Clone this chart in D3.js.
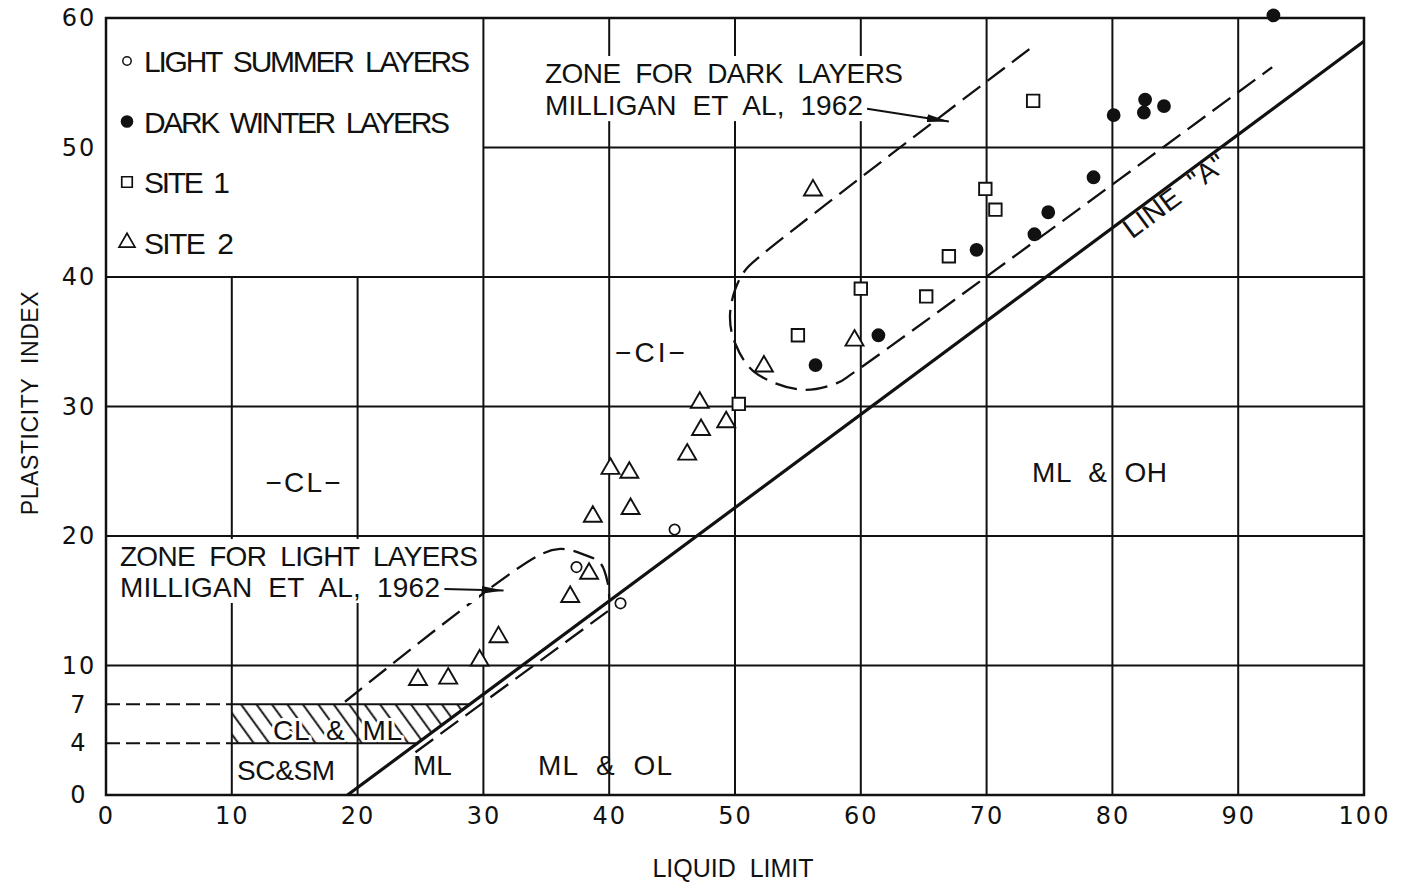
<!DOCTYPE html>
<html>
<head>
<meta charset="utf-8">
<script src="https://cdn.jsdelivr.net/npm/d3@7"></script>
<style>
  body { margin: 0; background: #fff; }
  svg { display: block; }
  text { white-space: pre; }
</style>
</head>
<body>
<div id="chart"></div>
<script>
// plasticity chart — liquid limit vs plasticity index, varved clay samples

const xTicks = [0, 10, 20, 30, 40, 50, 60, 70, 80, 90, 100];
const yTicks = [0, 4, 7, 10, 20, 30, 40, 50, 60];

// series (LL, PI)
const lightLL = [37.4, 40.9, 45.2];
const lightPI = [17.6, 14.8, 20.5];
const darkLL = [56.4, 61.4, 69.2, 73.8, 74.9, 78.5, 80.1, 82.5, 82.6, 84.1, 92.8];
const darkPI = [33.2, 35.5, 42.1, 43.3, 45.0, 47.7, 52.5, 52.7, 53.7, 53.2, 60.2];
const site1LL = [50.3, 55.0, 60.0, 65.2, 67.0, 69.9, 70.7, 73.7];
const site1PI = [30.2, 35.5, 39.1, 38.5, 41.6, 46.8, 45.2, 53.6];
const site2LL = [24.8, 27.2, 29.7, 31.2, 36.9, 38.4, 38.7, 40.1, 41.6, 41.7, 46.2, 47.3, 47.2, 49.3, 52.3, 56.2, 59.5];
const site2PI = [8.9, 9.0, 10.4, 12.2, 15.3, 17.1, 21.5, 25.2, 24.9, 22.1, 26.3, 28.2, 30.3, 28.8, 33.1, 46.7, 35.1];

const seriesNames = ["LIGHT  SUMMER  LAYERS", "DARK  WINTER  LAYERS", "SITE  1", "SITE  2"];

// line "A"
const lineALL = [19.2, 100];
const lineAPI = [0, 58.2];

// Milligan et al. 1962 zones
const lightUpperLL = [19.0, 34.2, 36.1, 37.9, 39.3, 39.9, 40.0];
const lightUpperPI = [7.2, 18.4, 19.0, 18.6, 17.9, 16.3, 15.2];
const lightLowerLL = [24.6, 39.9];
const lightLowerPI = [3.3, 14.2];
const darkZoneLL = [73.4, 52.0, 50.8, 50.0, 49.6, 50.0, 51.5, 55.2, 58.1, 59.4, 92.7];
const darkZonePI = [57.6, 41.6, 40.5, 39.0, 36.9, 34.9, 32.7, 31.3, 31.8, 32.6, 56.2];

const zip = (a, b) => a.map((v, i) => [v, b[i]]);

const width = 1405, height = 884;
const x = d3.scaleLinear().domain([0, 100]).range([106, 1364]);
const y = d3.scaleLinear().domain([0, 60]).range([795, 18]);
const lineAx = d3.scaleLinear().domain(lineAPI).range(lineALL); // LL on line A for a PI

const ink = "#111";
const cadFont = "'Liberation Sans Narrow', 'Arial Narrow', 'Liberation Sans', Arial, sans-serif";

const svg = d3.select("#chart").append("svg")
  .attr("width", width)
  .attr("height", height)
  .style("background", "#fff");

const defs = svg.append("defs");
defs.append("pattern")
  .attr("id", "hatch")
  .attr("patternUnits", "userSpaceOnUse")
  .attr("width", 12.5).attr("height", 12.5)
  .attr("patternTransform", "rotate(-36)")
  .append("line")
  .attr("x1", 6).attr("x2", 6).attr("y1", 0).attr("y2", 12.5)
  .attr("stroke", ink).attr("stroke-width", 1.9);

defs.append("marker")
  .attr("id", "arrow")
  .attr("viewBox", "0 0 20 10")
  .attr("refX", 20).attr("refY", 5)
  .attr("markerWidth", 22).attr("markerHeight", 11)
  .attr("markerUnits", "userSpaceOnUse")
  .attr("orient", "auto")
  .append("path")
  .attr("d", "M0,1.5 L20,5 L0,8.5 Z")
  .attr("fill", ink);

// hatched CL & ML band between PI 4 and 7
const band = [[10, 4], [10, 7], [lineAx(7), 7], [lineAx(4), 4]];
svg.append("polygon")
  .attr("points", band.map(d => [x(d[0]), y(d[1])].join(",")).join(" "))
  .attr("fill", "url(#hatch)");

function label(g, txt, ll, pi, w, opts = {}) {
  const t = g.append("text")
    .attr("x", x(ll))
    .attr("y", y(pi))
    .attr("text-anchor", opts.anchor || "middle")
    .style("font-family", cadFont)
    .style("font-size", (opts.size || 28) + "px")
    .attr("fill", ink)
    .text(txt);
  if (w) t.attr("textLength", w).attr("lengthAdjust", "spacing");
  return t;
}

const bandLabel = svg.append("g");
label(bandLabel, "CL  &  ML", 18.4, 4.25, 129)
  .attr("stroke", "#fff").attr("stroke-width", 6)
  .attr("paint-order", "stroke").attr("stroke-linejoin", "round");

// grid
const grid = svg.append("g").attr("stroke", ink).attr("stroke-width", 2).attr("fill", "none");
[10, 20].forEach(v => grid.append("line").attr("x1", x(v)).attr("x2", x(v)).attr("y1", y(0)).attr("y2", y(40)));
[30, 40, 50, 60, 70, 80, 90].forEach(v => grid.append("line").attr("x1", x(v)).attr("x2", x(v)).attr("y1", y(0)).attr("y2", y(60)));
[10, 20, 30, 40].forEach(v => grid.append("line").attr("x1", x(0)).attr("x2", x(100)).attr("y1", y(v)).attr("y2", y(v)));
grid.append("line").attr("x1", x(30)).attr("x2", x(100)).attr("y1", y(50)).attr("y2", y(50));
[4, 7].forEach(v => {
  grid.append("line").attr("x1", x(10)).attr("x2", x(lineAx(v))).attr("y1", y(v)).attr("y2", y(v));
  grid.append("line").attr("x1", x(0)).attr("x2", x(10)).attr("y1", y(v)).attr("y2", y(v))
    .attr("stroke-dasharray", "14,6");
});
grid.append("rect")
  .attr("x", x(0)).attr("y", y(60))
  .attr("width", x(100) - x(0)).attr("height", y(0) - y(60))
  .attr("stroke-width", 2.5);

// line A
const line = d3.line().x(d => x(d[0])).y(d => y(d[1]));
svg.append("path")
  .attr("d", line(zip(lineALL, lineAPI)))
  .attr("stroke", ink).attr("stroke-width", 3.2).attr("fill", "none");

// dashed zone outlines
const curve = d3.line().x(d => x(d[0])).y(d => y(d[1])).curve(d3.curveCatmullRom.alpha(0.5));
const zones = svg.append("g").attr("stroke", ink).attr("stroke-width", 2.3).attr("fill", "none")
  .attr("stroke-dasharray", "22,9");
zones.append("path").attr("d", curve(zip(lightUpperLL, lightUpperPI)));
zones.append("path").attr("d", line(zip(lightLowerLL, lightLowerPI)));
zones.append("path").attr("d", curve(zip(darkZoneLL, darkZonePI)));

// zone labels with knocked-out background
function block(lines, ll, baselines, widths, arrowFrom, arrowTo) {
  const g = svg.append("g");
  const bg = g.append("rect").attr("fill", "#fff");
  lines.forEach((s, i) => label(g, s, ll, baselines[i], widths[i], { anchor: "start" }));
  const bb = g.node().getBBox();
  bg.attr("x", bb.x - 3).attr("y", bb.y - 2).attr("width", bb.width + 4).attr("height", bb.height + 2);
  g.append("line")
    .attr("x1", x(arrowFrom[0])).attr("y1", y(arrowFrom[1]))
    .attr("x2", x(arrowTo[0])).attr("y2", y(arrowTo[1]))
    .attr("stroke", ink).attr("stroke-width", 2)
    .attr("marker-end", "url(#arrow)");
}
block(["ZONE  FOR  DARK  LAYERS", "MILLIGAN  ET  AL,  1962"], 34.9, [54.98, 52.5], [358, 318],
  [60.5, 53.0], [67.0, 52.0]);
block(["ZONE  FOR  LIGHT  LAYERS", "MILLIGAN  ET  AL,  1962"], 1.11, [17.68, 15.29], [358, 320],
  [26.9, 15.9], [31.6, 15.8]);

// region labels
const regions = svg.append("g");
label(regions, "\u2212CL\u2212", 15.66, 23.4, 75);
label(regions, "\u2212CI\u2212", 43.24, 33.44, 70);
label(regions, "ML  &  OH", 78.98, 24.17, 135);
label(regions, "ML  &  OL", 39.67, 1.54, 134);
label(regions, "ML", 25.95, 1.54, 39);
label(regions, "SC&SM", 14.31, 1.16, 98);

// line A label, rotated along the line
const aLL = 84.4;
const angle = Math.atan2(y(lineAPI[0]) - y(lineAPI[1]), x(lineALL[1]) - x(lineALL[0])) * 180 / Math.PI;
svg.append("text")
  .attr("transform", `translate(${x(aLL)},${y(lineAPI[0] + (aLL - lineALL[0]) * (lineAPI[1] - lineAPI[0]) / (lineALL[1] - lineALL[0]))}) rotate(${-angle})`)
  .attr("y", 21)
  .attr("text-anchor", "middle")
  .style("font-family", cadFont)
  .style("font-size", "28px")
  .attr("fill", ink)
  .attr("textLength", 120).attr("lengthAdjust", "spacing")
  .text("LINE  \"A\"");

// markers
const sym = (type, size) => d3.symbol().type(type).size(size)();
const series = [
  { ll: lightLL, pi: lightPI, d: sym(d3.symbolCircle, 85), fill: "#fff", sw: 1.7 },
  { ll: darkLL, pi: darkPI, d: sym(d3.symbolCircle, 150), fill: ink, sw: 0 },
  { ll: site1LL, pi: site1PI, d: sym(d3.symbolSquare, 155), fill: "#fff", sw: 1.9 },
  { ll: site2LL, pi: site2PI, d: sym(d3.symbolTriangle, 140), fill: "#fff", sw: 1.9 }
];
series.forEach(s => {
  svg.append("g").selectAll("path")
    .data(zip(s.ll, s.pi))
    .join("path")
    .attr("transform", d => `translate(${x(d[0])},${y(d[1])})`)
    .attr("d", s.d)
    .attr("fill", s.fill)
    .attr("stroke", ink)
    .attr("stroke-width", s.sw);
});

// legend (top-left cell)
const legendSyms = [
  { d: sym(d3.symbolCircle, 55), fill: "#fff", sw: 1.5 },
  { d: sym(d3.symbolCircle, 125), fill: ink, sw: 0 },
  { d: sym(d3.symbolSquare, 110), fill: "#fff", sw: 1.7 },
  { d: sym(d3.symbolTriangle, 110), fill: "#fff", sw: 1.7 }
];
const legendWidths = [326, 306, 86, 90];
const legend = svg.append("g");
seriesNames.forEach((name, i) => {
  const cy = 61 + i * 60.5;
  legend.append("path")
    .attr("transform", `translate(127,${cy})`)
    .attr("d", legendSyms[i].d)
    .attr("fill", legendSyms[i].fill)
    .attr("stroke", ink)
    .attr("stroke-width", legendSyms[i].sw);
  legend.append("text")
    .attr("x", 144).attr("y", cy + 11)
    .style("font-family", cadFont)
    .style("font-size", "30px")
    .attr("fill", ink)
    .attr("textLength", legendWidths[i]).attr("lengthAdjust", "spacing")
    .text(name);
});

// axes (labels only, the grid carries the ticks)
const xAxis = svg.append("g")
  .attr("transform", `translate(0,${y(0)})`)
  .call(d3.axisBottom(x).tickValues(xTicks).tickSize(0).tickPadding(12).tickFormat(d3.format("d")));
const yAxis = svg.append("g")
  .attr("transform", `translate(${x(0)},0)`)
  .call(d3.axisLeft(y).tickValues(yTicks).tickSize(0).tickFormat(d3.format("d")));
[xAxis, yAxis].forEach(a => {
  a.select(".domain").remove();
  a.selectAll("text")
    .style("font-family", "'DejaVu Sans', sans-serif")
    .style("font-size", "24px")
    .style("letter-spacing", "2px")
    .attr("fill", ink);
});
yAxis.selectAll("text").attr("x", -27).attr("text-anchor", "middle");

svg.append("text")
  .attr("x", 733).attr("y", 877)
  .attr("text-anchor", "middle")
  .style("font-family", "'Liberation Sans', Arial, sans-serif")
  .style("font-size", "25px")
  .attr("fill", ink)
  .text("LIQUID  LIMIT");

svg.append("text")
  .attr("transform", "translate(38,403) rotate(-90)")
  .attr("text-anchor", "middle")
  .style("font-family", "'Liberation Sans', Arial, sans-serif")
  .style("font-size", "23px")
  .style("letter-spacing", "0.6px")
  .attr("fill", ink)
  .text("PLASTICITY  INDEX");
</script>
</body>
</html>
